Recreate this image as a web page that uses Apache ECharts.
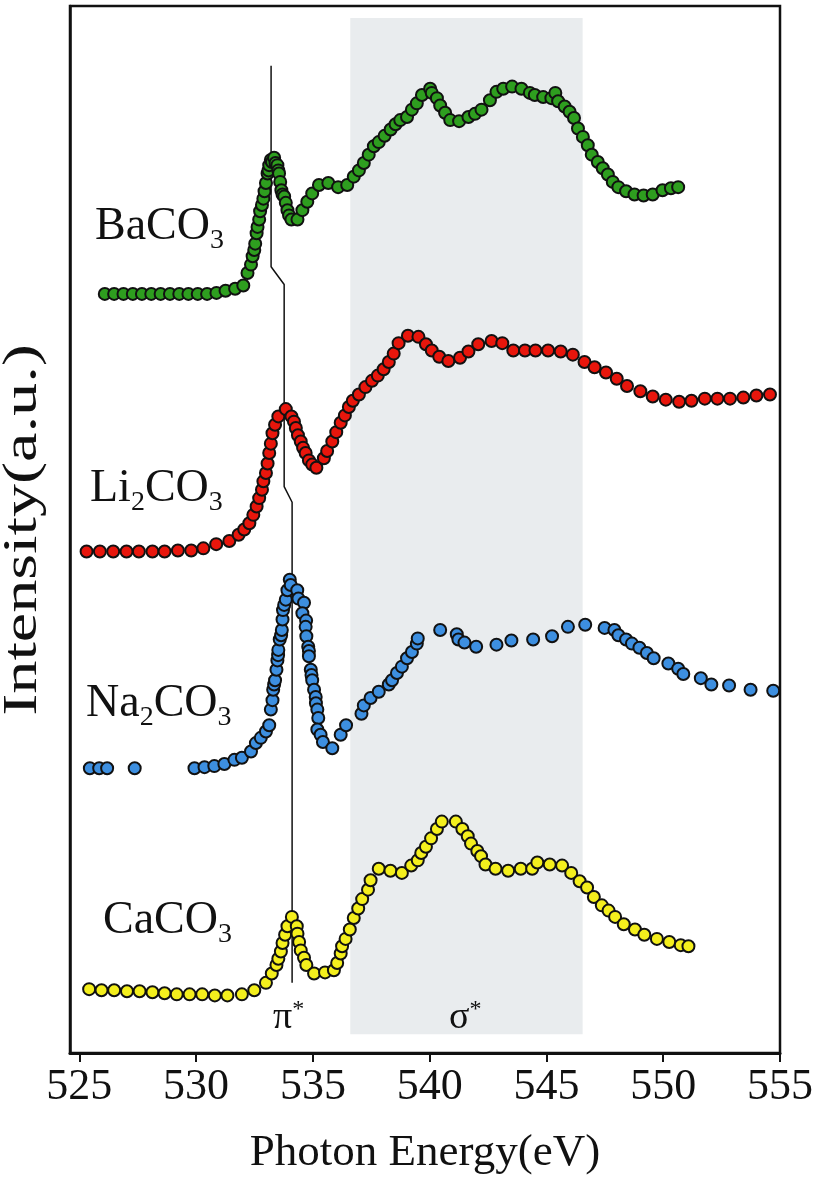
<!DOCTYPE html>
<html><head><meta charset="utf-8">
<script src="https://cdn.jsdelivr.net/npm/echarts@6/dist/echarts.min.js"></script>
<style>html,body{margin:0;padding:0;background:#fff}#c{width:816px;height:1184px}</style>
</head><body><div id="c"></div>
<script>
// x tick labels (eV)
const xTicks = [525, 530, 535, 540, 545, 550, 555];
// Shaded sigma* region (eV)
const sigmaBand = [536.6, 546.55];
// Guide line through pi* peaks [eV, intensity a.u.]
const piLine = [[533.21, 94.3], [533.21, 75.1], [533.77, 73.4], [533.77, 54.1], [534.11, 52.6], [534.11, 6.7]];

// Series: [photon energy eV, intensity a.u. (offset stacked)]
const BaCO3 = [
  [526.09,72.5],[526.49,72.5],[526.89,72.5],[527.29,72.5],[527.68,72.5],[528.08,72.5],[528.48,72.5],[528.88,72.5],
  [529.28,72.5],[529.67,72.5],[530.07,72.5],[530.47,72.5],[530.87,72.6],[531.26,72.8],[531.67,73.0],[532.02,73.3],
  [532.20,74.5],[532.35,75.3],[532.42,76.1],[532.49,76.7],[532.53,77.3],[532.59,78.3],[532.63,78.9],[532.70,79.6],
  [532.74,80.4],[532.82,81.0],[532.88,81.6],[532.93,82.3],[532.99,83.1],[533.06,84.0],[533.10,84.3],[533.13,84.8],
  [533.20,85.3],[533.25,85.1],[533.34,85.5],[533.40,85.0],[533.48,84.8],[533.52,84.3],[533.55,84.0],[533.60,83.2],
  [533.65,82.4],[533.70,82.0],[533.77,81.8],[533.84,81.2],[533.91,80.5],[533.98,80.0],[534.08,79.6],[534.34,79.6],
  [534.55,80.5],[534.76,81.3],[534.97,82.1],[535.26,82.9],[535.66,83.1],[536.08,82.7],[536.47,82.9],[536.75,83.7],
  [536.97,84.3],[537.18,85.0],[537.39,85.8],[537.61,86.6],[537.82,87.0],[538.07,87.6],[538.33,88.2],[538.54,88.7],
  [538.74,89.1],[539.03,89.4],[539.24,90.1],[539.45,90.7],[539.67,91.5],[540.02,92.1],[540.09,91.7],[540.31,91.2],
  [540.45,90.5],[540.66,89.8],[540.88,89.1],[541.26,89.0],[541.66,89.4],[541.94,89.7],[542.22,90.1],[542.58,91.0],
  [542.86,91.8],[543.15,92.1],[543.53,92.3],[543.93,92.1],[544.29,91.7],[544.50,91.5],[544.86,91.3],[545.21,91.2],
  [545.38,91.7],[545.50,90.9],[545.78,90.4],[545.99,89.9],[546.18,89.3],[546.35,88.3],[546.56,87.5],[546.77,86.7],
  [546.94,85.8],[547.20,85.1],[547.41,84.5],[547.63,83.9],[547.84,83.2],[548.08,82.7],[548.41,82.3],[548.77,82.0],
  [549.16,81.9],[549.55,82.0],[549.97,82.4],[550.33,82.6],[550.64,82.7]
];
const Li2CO3 = [
  [525.31,47.9],[525.88,47.9],[526.45,47.9],[527.02,47.9],[527.55,47.9],[528.13,47.9],[528.65,47.9],[529.22,48.0],
  [529.79,48.0],[530.31,48.2],[530.86,48.6],[531.42,48.9],[531.82,49.5],[532.06,50.0],[532.28,50.6],[532.45,51.4],
  [532.59,52.2],[532.70,53.0],[532.82,53.8],[532.88,54.6],[532.99,55.4],[533.06,56.3],[533.13,57.3],[533.20,58.2],
  [533.27,59.2],[533.38,60.0],[533.52,60.8],[533.84,61.5],[534.08,60.8],[534.19,60.3],[534.27,59.7],[534.36,59.0],
  [534.48,58.4],[534.58,57.8],[534.69,57.3],[534.83,56.6],[534.97,56.2],[535.15,55.9],[535.47,56.8],[535.61,57.5],
  [535.83,58.4],[536.00,59.3],[536.19,60.2],[536.37,60.9],[536.54,61.7],[536.71,62.3],[536.97,62.9],[537.25,63.6],
  [537.53,64.2],[537.78,64.7],[538.03,65.3],[538.25,66.0],[538.46,66.8],[538.67,67.8],[539.07,68.5],[539.52,68.4],
  [539.84,67.7],[540.09,67.1],[540.41,66.5],[540.80,66.1],[541.30,66.4],[541.66,67.0],[542.08,67.7],[542.65,68.0],
  [543.11,67.8],[543.58,67.1],[544.08,67.1],[544.53,67.1],[545.07,67.1],[545.61,67.0],[546.13,66.7],[546.63,66.0],
  [547.06,65.5],[547.55,65.0],[548.01,64.4],[548.45,63.7],[549.02,63.2],[549.55,62.7],[550.11,62.4],[550.68,62.2],
  [551.21,62.3],[551.78,62.5],[552.32,62.5],[552.86,62.5],[553.43,62.6],[553.99,62.8],[554.57,62.9]
];
const Na2CO3 = [
  [525.45,27.2],[525.85,27.2],[526.19,27.2],[527.37,27.2],[529.93,27.2],[530.36,27.3],[530.78,27.4],[531.21,27.6],
  [531.64,28.0],[531.96,28.2],[532.35,28.8],[532.56,29.6],[532.77,30.1],[532.99,30.7],[533.13,31.3],[533.20,32.8],
  [533.27,33.7],[533.30,34.7],[533.34,35.2],[533.38,35.6],[533.44,36.6],[533.48,37.5],[533.51,38.0],[533.52,38.5],
  [533.58,39.5],[533.64,39.9],[533.67,40.4],[533.70,41.4],[533.72,42.3],[533.77,42.8],[533.84,43.3],[533.91,44.2],
  [534.01,45.2],[534.05,44.7],[534.33,44.2],[534.38,43.4],[534.62,43.0],[534.55,42.0],[534.71,41.3],[534.69,40.7],
  [534.72,39.8],[534.80,38.8],[534.83,38.4],[534.83,37.9],[534.91,36.6],[534.94,36.1],[534.97,35.6],[535.05,34.7],
  [535.12,34.0],[535.13,33.4],[535.19,32.8],[535.23,32.0],[535.19,30.9],[535.33,30.4],[535.43,29.7],[535.83,29.1],
  [536.19,30.4],[536.42,31.3],[537.08,32.4],[537.18,33.2],[537.47,33.9],[537.82,34.5],[538.25,35.2],[538.39,35.6],
  [538.60,36.3],[538.81,36.9],[539.03,37.7],[539.24,38.3],[539.45,39.1],[539.49,39.6],[540.45,40.4],[541.16,40.0],
  [541.23,39.5],[541.49,39.2],[541.99,38.8],[542.86,39.0],[543.50,39.4],[544.43,39.5],[545.24,39.8],[545.92,40.7],
  [546.66,40.9],[547.49,40.6],[547.91,40.4],[548.08,39.9],[548.41,39.5],[548.66,39.1],[548.98,38.7],[549.30,38.2],
  [549.59,37.7],[550.22,37.2],[550.64,36.7],[550.86,36.2],[551.61,35.8],[552.06,35.2],[552.82,35.1],[553.74,34.7],
  [554.71,34.6]
];
const CaCO3 = [
  [525.42,6.1],[525.95,6.0],[526.49,6.0],[527.04,5.9],[527.58,5.9],[528.13,5.8],[528.65,5.7],[529.17,5.6],
  [529.72,5.6],[530.26,5.6],[530.80,5.5],[531.34,5.5],[531.96,5.6],[532.49,6.0],[532.99,6.7],[533.24,7.6],
  [533.44,8.4],[533.52,9.0],[533.63,9.7],[533.70,10.5],[533.81,11.3],[533.91,12.1],[534.10,13.0],[534.31,12.1],
  [534.34,11.4],[534.41,10.6],[534.48,9.8],[534.62,9.1],[534.72,8.4],[535.05,7.6],[535.52,7.7],[535.90,7.9],
  [536.04,8.6],[536.19,9.5],[536.25,10.2],[536.40,10.9],[536.58,11.8],[536.75,12.9],[536.94,13.8],[537.11,14.7],
  [537.36,15.6],[537.47,16.5],[537.82,17.6],[538.32,17.4],[538.81,17.2],[539.21,17.9],[539.49,18.4],[539.64,19.1],
  [539.84,19.7],[540.06,20.5],[540.31,21.4],[540.52,22.1],[541.12,22.1],[541.40,21.4],[541.63,20.7],[541.77,20.0],
  [542.04,19.3],[542.20,18.8],[542.39,18.0],[542.82,17.6],[543.36,17.4],[543.90,17.6],[544.39,17.6],[544.61,18.2],
  [545.14,18.0],[545.67,17.9],[546.06,17.2],[546.42,16.4],[546.74,15.8],[547.03,14.9],[547.37,14.1],[547.66,13.6],
  [547.94,13.0],[548.31,12.3],[548.79,11.8],[549.19,11.3],[549.73,10.9],[550.26,10.6],[550.75,10.3],[551.08,10.2]
];

const FONT = 'Liberation Serif';
const INK = '#111111';

function dots(name, data, color) {
  return {
    name, type: 'scatter', data, z: 5,
    symbol: 'circle', symbolSize: 12,
    itemStyle: { color, borderColor: INK, borderWidth: 2, opacity: 1 },
    emphasis: { disabled: true }
  };
}
function chem(parts, x, y) {
  return {
    type: 'text', x, y, z: 10,
    style: {
      text: parts, font: '46px "' + FONT + '"', fill: INK, verticalAlign: 'top',
      rich: {
        m: { fontSize: 46, fontFamily: FONT, lineHeight: 50, fill: INK, color: INK },
        s: { fontSize: 28, fontFamily: FONT, lineHeight: 50, verticalAlign: 'top', padding: [25, 0, 0, 0], fill: INK, color: INK }
      }
    }
  };
}
function orb(sym, x, y) {
  return {
    type: 'text', x, y, z: 10,
    style: {
      text: '{g|' + sym + '}{p|*}', verticalAlign: 'top',
      rich: {
        g: { fontSize: 38, fontFamily: FONT, lineHeight: 40, fill: INK, color: INK },
        p: { fontSize: 24, fontFamily: FONT, lineHeight: 40, verticalAlign: 'top', padding: [0, 0, 0, 0], fill: INK, color: INK }
      }
    }
  };
}

const chart = echarts.init(document.getElementById('c'), null, { renderer: 'canvas' });
chart.setOption({
  animation: false,
  backgroundColor: '#ffffff',
  grid: { left: 70, right: 33, top: 6, bottom: 131, show: true, borderColor: INK, borderWidth: 2.5, backgroundColor: 'transparent' },
  xAxis: {
    type: 'value', min: 524.6, max: 555,
    name: 'Photon Energy(eV)', nameLocation: 'middle', nameGap: 78,
    nameTextStyle: { fontFamily: FONT, fontSize: 45, color: INK },
    axisLine: { show: true, lineStyle: { color: INK, width: 3 } },
    axisTick: { show: true, customValues: xTicks, length: 9, lineStyle: { color: INK, width: 2 } },
    axisLabel: { customValues: xTicks, fontFamily: FONT, fontSize: 44, color: INK, margin: 12 },
    splitLine: { show: false }
  },
  yAxis: {
    type: 'value', min: 0, max: 100,
    axisLine: { show: true, lineStyle: { color: INK, width: 2.5 } },
    axisTick: { show: false }, axisLabel: { show: false }, splitLine: { show: false }
  },
  series: [
    {
      type: 'line', data: [], z: 1, silent: true,
      markArea: {
        silent: true,
        itemStyle: { color: '#e9ecee' },
        data: [[{ xAxis: sigmaBand[0], yAxis: 1.8 }, { xAxis: sigmaBand[1], yAxis: 98.85 }]]
      }
    },
    {
      type: 'line', data: piLine, z: 2, showSymbol: false, silent: true,
      lineStyle: { color: INK, width: 1.5 }
    },
    dots('BaCO3', BaCO3, '#2e9e1f'),
    dots('Li2CO3', Li2CO3, '#e8160c'),
    dots('Na2CO3', Na2CO3, '#3d8fe0'),
    dots('CaCO3', CaCO3, '#f4ef1d')
  ],
  graphic: [
    // y-axis title (stretched along its length as in the reference)
    {
      type: 'text', x: 23, y: 530, rotation: Math.PI / 2, scaleX: 1.38, scaleY: 1, z: 10,
      style: { text: 'Intensity(a.u.)', font: '48px "' + FONT + '"', fill: INK, align: 'center', verticalAlign: 'middle' }
    },
    chem('{m|BaCO}{s|3}', 95, 202),
    chem('{m|Li}{s|2}{m|CO}{s|3}', 90, 464),
    chem('{m|Na}{s|2}{m|CO}{s|3}', 86, 679),
    chem('{m|CaCO}{s|3}', 103, 896),
    orb('π', 273, 998),
    orb('σ', 449, 998)
  ]
});
</script>
</body></html>
